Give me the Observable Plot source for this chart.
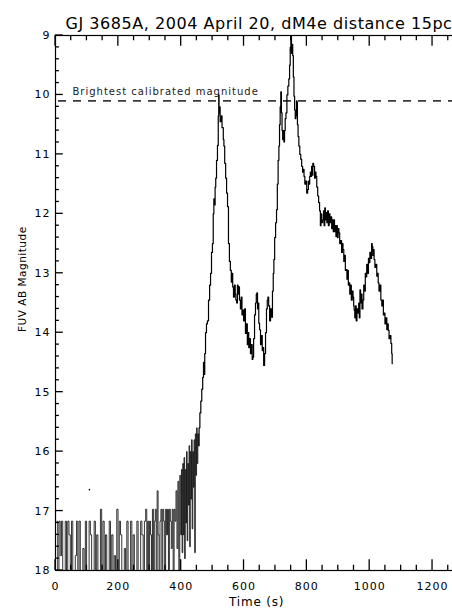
<!DOCTYPE html>
<html>
<head>
<meta charset="utf-8">
<script src="https://cdn.jsdelivr.net/npm/d3@7"></script>
<script src="https://cdn.jsdelivr.net/npm/@observablehq/plot@0.6"></script>
<style>
  html, body { margin: 0; background: #fff; overflow: hidden; }
  #chart svg { display: block; overflow: hidden; }
</style>
</head>
<body>
<div id="chart"></div>
<script>
// Labels
const title = "GJ 3685A, 2004 April 20, dM4e distance 15pc";
const xLabel = "Time (s)";
const yLabel = "FUV AB Magnitude";
const limitLabel = "Brightest calibrated magnitude";
const brightestCalibrated = 10.1;

// Axis ticks
const xTicks = [0, 200, 400, 600, 800, 1000, 1200];
const yTicks = [9, 10, 11, 12, 13, 14, 15, 16, 17, 18];

// Light curve bins, [time (s), FUV AB magnitude]; 18.4 = empty bin (below the plotted range)
const quiescent = [
  [5,17.17],[9,18.4],[13,17.17],[17,17.75],[21,17.17],[25,18.4],[29,18.4],[33,17.17],[37,18.4],[41,17.17],
  [45,17.4],[49,18.4],[53,17.17],[57,18.4],[61,18.4],[65,17.75],[69,17.17],[73,18.4],[77,17.17],[81,18.4],
  [85,18.4],[89,17.63],[93,18.4],[97,17.17],[101,18.4],[105,18.4],[109,17.17],[113,17.4],[117,18.4],[121,18.4],
  [125,17.17],[129,18.4],[133,17.4],[137,18.4],[141,18.4],[145,16.97],[149,18.4],[153,17.17],[157,18.4],[161,17.4],
  [165,18.4],[169,18.4],[173,17.17],[177,18.4],[181,17.4],[185,18.4],[189,17.75],[193,18.4],[197,16.97],[201,18.4],
  [205,17.17],[209,17.4],[213,18.4],[217,18.4],[221,17.63],[225,18.4],[229,17.17],[233,18.4],[237,18.4],[241,17.17],
  [245,18.4],[249,17.4],[253,18.4],[257,18.4],[261,17.17],[265,18.4],[269,18.4],[273,17.17],[277,17.4],[281,18.4],
  [285,17.17],[289,16.97]
];
const onset = [
  [292,18.4],[295,17.17],[298,18.4],[301,17.17],[304,17.4],[307,18.4],[310,16.97],[313,18.4],[316,17.17],[319,16.97],
  [322,18.4],[325,16.66],[328,17.4],[331,18.4],[334,17.17],[337,16.97],[340,18.4],[343,16.97],[346,17.17],[349,18.4],
  [352,16.97],[355,17.4],[358,16.97],[361,18.4],[364,16.97],[367,17.17],[370,17.63],[373,16.97],[376,18.4],[379,16.97],
  [382,17.17],[385,16.66],[388,17.63],[391,16.5],[394,18.4],[397,16.4],[400,17.4],
  [402,16.3],[404,17.7],[406,16.2],[408,17.4],[410,16.1],[412,17.8],[414,16.3],[416,17.2],[418,16.0],[420,17.5],
  [422,16.2],[424,16.9],[426,15.9],[428,17.6],[430,16.0],[432,16.8],[434,15.8],[436,17.3],[438,16.0],[440,16.6],
  [442,15.8],[444,17.7],[446,15.7],[448,16.4],[450,15.6],[452,16.2],[454,15.7],[456,15.9]
];
const firstFlare = [
  [458,15.6],[461,15.35],[464,15.15],[467,14.95],[470,14.75],[472,14.5],[474,14.7],[476,14.35],[479,14.0],[482,13.85],
  [485,13.8],[489,13.45],[492,13.2],[495,13.0],[498,12.65],[501,12.5],[503,12.0],[505,11.75],[507,11.85],[509,11.55],
  [511,11.4],[514,11.1],[517,10.85],[519,10.35],[520,10.0],[521,10.3],[523,10.2],[525,10.45],[527,10.45],[529,10.35],
  [531,10.55],[533,10.55],[535,10.75],[537,10.86],[540,11.15],[543,11.4],[546,11.65],[549,11.88],[552,12.5],[555,12.8],
  [558,12.95],[561,13.15],[563,13.0],[565,13.23],[568,13.4],[571,13.2],[573,13.35],[575,13.45],[578,13.5],[580,13.2],
  [582,13.35],[584,13.23],[587,13.45],[590,13.6],[592,13.4],[595,13.7],[597,13.62],[600,13.8],[603,13.6],[606,14.01],
  [609,13.85],[612,14.2],[614,14.0],[616,14.25],[619,14.1],[622,14.35],[625,14.2],[627,14.45],[629,14.41],[632,14.1],
  [635,13.7],[638,13.5],[640,13.35],[642,13.33],[644,13.6],[646,13.5],[648,13.84],[651,13.95],[654,14.2],[657,14.05],
  [659,14.3],[661,14.25],[664,14.55],[667,14.35],[670,14.0],[673,13.6],[675,13.45],[677,13.4],[680,13.55],[683,13.8],
  [686,13.6],[689,13.74]
];
const secondFlare = [
  [692,13.3],[694,13.0],[696,12.77],[699,12.4],[702,12.15],[705,11.93],[707,11.5],[710,11.1],[712,10.86],[714,10.5],
  [716,10.2],[718,9.95],[720,10.3],[722,10.6],[724,10.75],[726,10.6],[728,10.79],[730,10.6],[732,10.4],[735,10.3],
  [738,10.0],[741,9.85],[744,9.73],[746,9.5],[748,9.2],[750,9.0],[752,9.3],[754,9.15],[756,9.34],[758,9.7],
  [760,10.02],[762,10.25],[764,10.4],[766,10.35],[768,10.1],[769,10.12],[771,10.5],[773,10.7],[776,10.86],[779,11.0],
  [782,11.08],[785,11.2],[788,11.3],[790,11.25],[792,11.37],[795,11.5],[798,11.45],[801,11.65],[804,11.59],[806,11.45],
  [808,11.5],[810,11.37],[812,11.3],[814,11.37],[816,11.2],[818,11.35],[820,11.15],[823,11.2],[826,11.4],[828,11.3],
  [830,11.37],[833,11.55],[836,11.7],[839,11.81],[842,11.95],[844,12.2],[846,12.0],[849,12.15],[852,12.1],[854,11.95],
  [856,12.2],[858,11.9],[860,12.1],[862,11.98],[865,12.15],[867,11.95],[870,12.2],[872,12.0],[875,12.15],[878,12.05],
  [880,12.25],[883,12.1],[885,12.3],[887,12.1],[889,12.3],[891,12.2],[894,12.38],[896,12.2],[898,12.4],[901,12.25],
  [903,12.32],[906,12.5],[909,12.45],[912,12.65],[914,12.5],[916,12.6],[919,12.8],[921,12.7],[924,12.95],[926,12.94],
  [929,13.1],[931,12.95],[933,13.2],[935,13.16],[938,13.35],[940,13.2],[943,13.45],[946,13.3],[948,13.4],[950,13.55],
  [951,13.62],[954,13.75],[956,13.55],[958,13.8],[961,13.6],[964,13.67],[966,13.5],[968,13.75],[970,13.28],[972,13.5],
  [974,13.35],[977,13.6],[980,13.45],[982,13.2],[985,13.3],[987,13.0],[989,13.06],[992,12.85],[995,13.0],[997,12.75],
  [999,12.82],[1002,12.65],[1005,12.75],[1007,12.5],[1009,12.55],[1011,12.7],[1013,12.6],[1015,12.77],[1018,12.9],[1021,12.85],
  [1024,13.05],[1026,13.0],[1028,13.16],[1031,13.3],[1034,13.2],[1037,13.45],[1040,13.55],[1042,13.45],[1045,13.7],[1047,13.67],
  [1050,13.85],[1053,13.75],[1056,13.95],[1058,13.85],[1060,13.96],[1063,14.1],[1066,14.05],[1069,14.18],[1071,14.35],[1072,14.52]
];
// isolated single bin
const strayPoints = [[108, 16.64]];

const toRows = (pairs) => pairs.map(([t, m]) => ({t, m}));
const faintPart = toRows([...quiescent, ...onset]);
const flarePart = toRows([onset[onset.length - 1], ...firstFlare, ...secondFlare]);

// Frame geometry: the time axis runs to 1400 s, past the right edge of the page
const xMax = 1400, yMin = 9, yMax = 18;
const chartWidth = 452, chartHeight = 609;
const marginLeft = 55, marginTop = 35, marginBottom = 39;
const pxPerSec = 0.3142;
const marginRight = chartWidth - marginLeft - xMax * pxPerSec;

// Minor tick positions
const xMinor = d3.range(0, xMax + 1, 50).filter(v => v % 200 !== 0);
const yMinor = d3.range(yMin, yMax + 0.001, 0.2).map(v => +v.toFixed(1)).filter(v => !Number.isInteger(v));

const chart = Plot.plot({
  width: chartWidth, height: chartHeight, marginLeft, marginRight, marginTop, marginBottom,
  style: {fontFamily: "DejaVu Sans, sans-serif", fontSize: "11px"},
  x: {domain: [0, xMax], label: null},
  y: {domain: [yMin, yMax], reverse: true, clamp: true, label: null},
  marks: [
    Plot.ruleY([brightestCalibrated], {stroke: "#3a3a3a", strokeWidth: 1.6, strokeDasharray: "8,7", strokeDashoffset: -3}),
    Plot.text([limitLabel], {y: () => brightestCalibrated, frameAnchor: "left", dx: 17, dy: -6,
      textAnchor: "start", lineAnchor: "bottom", fontSize: 10, fill: "#222"}),
    Plot.line(faintPart, {x: "t", y: "m", curve: "step", stroke: "black", strokeWidth: 0.8}),
    Plot.line(flarePart, {x: "t", y: "m", curve: "step", stroke: "black", strokeWidth: 1.2}),
    Plot.dot(strayPoints, {x: d => d[0], y: d => d[1], r: 0.8, fill: "black", stroke: null}),
    Plot.frame({stroke: "black", strokeWidth: 1.2}),
    Plot.axisX({ticks: xTicks, anchor: "bottom", tickSize: 0, tickPadding: 12, tickFormat: d => String(d), label: null}),
    Plot.axisY({ticks: yTicks, anchor: "left", tickSize: 0, tickPadding: 5, tickFormat: d => String(d), label: null}),
    Plot.text([title], {frameAnchor: "top-left", dx: 10, dy: -7, textAnchor: "start",
      lineAnchor: "bottom", fontSize: 16, fill: "black"}),
    Plot.text([xLabel], {x: () => 640, frameAnchor: "bottom", dy: 35, lineAnchor: "bottom", fontSize: 12, fill: "black"}),
    Plot.text([yLabel], {frameAnchor: "left", dx: -33, dy: 29, rotate: -90, fontSize: 10.5, fill: "black"})
  ]
});

// Inward ticks on the frame, placed with the plot's own scales
const sx = chart.scale("x"), sy = chart.scale("y");
const xPx = v => sx.apply(v), yPx = v => sy.apply(v);
const frameBottom = yPx(yMax), frameTop = yPx(yMin), frameLeft = xPx(0);
const tickLayer = d3.select(chart).append("g")
  .attr("stroke", "black").attr("stroke-width", 1.3).attr("fill", "none");
const drawXTicks = (vals, len) => {
  for (const v of vals) {
    tickLayer.append("line").attr("x1", xPx(v)).attr("x2", xPx(v)).attr("y1", frameBottom).attr("y2", frameBottom - len);
    tickLayer.append("line").attr("x1", xPx(v)).attr("x2", xPx(v)).attr("y1", frameTop).attr("y2", frameTop + len);
  }
};
const drawYTicks = (vals, len) => {
  for (const v of vals) {
    tickLayer.append("line").attr("x1", frameLeft).attr("x2", frameLeft + len).attr("y1", yPx(v)).attr("y2", yPx(v));
  }
};
drawXTicks(xTicks, 10.7); drawXTicks(xMinor, 5.3);
drawYTicks(yTicks, 7.8); drawYTicks(yMinor, 3.9);

// Wide, evenly spaced lettering
const spacing = new Map([[title, 0.55], [limitLabel, 1], [xLabel, 0.8], [yLabel, 0.5]]);
d3.select(chart).selectAll("text").each(function () {
  const s = spacing.get(this.textContent);
  if (s != null) this.setAttribute("letter-spacing", s);
  else if (/^\d+$/.test(this.textContent)) this.setAttribute("letter-spacing", 1);
});
document.getElementById("chart").append(chart);
</script>
</body>
</html>
